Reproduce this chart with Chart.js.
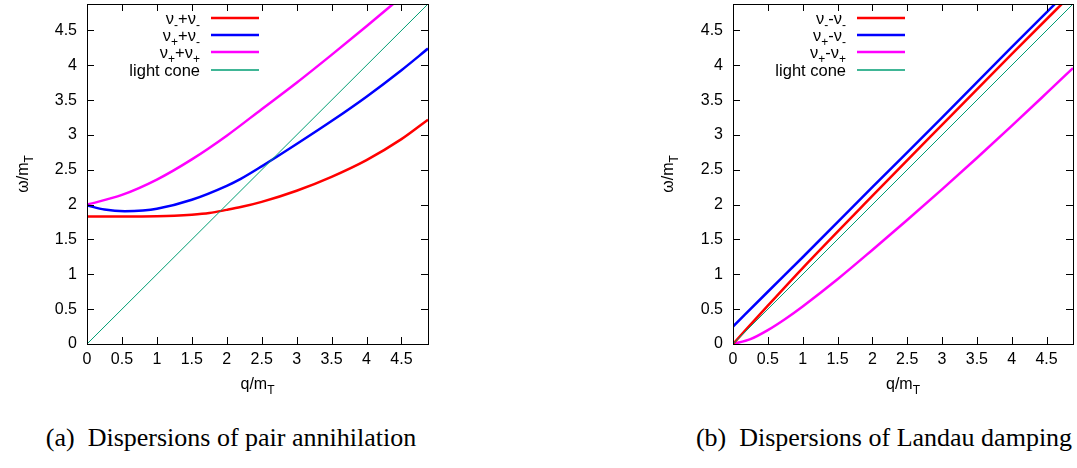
<!DOCTYPE html>
<html>
<head>
<meta charset="utf-8">
<script src="https://cdn.jsdelivr.net/npm/chart.js@4.4.1/dist/chart.umd.min.js"></script>
<style>
  html, body { margin: 0; padding: 0; background: #fff; }
  body { width: 1077px; height: 468px; position: relative; overflow: hidden; }
  .plot { position: absolute; top: 0; height: 400px; }
  .cap { position: absolute; top: 423px; font-family: "Liberation Serif", "Times New Roman", Times, "DejaVu Serif", serif; font-size: 26px; color: #000; white-space: nowrap; transform: translateX(-50%); }
</style>
</head>
<body>
<div class="plot" style="left:0;width:470px"><canvas id="pairChart"></canvas></div>
<div class="plot" style="left:610px;width:467px"><canvas id="landauChart"></canvas></div>
<div class="cap" style="left:231px">(a)&nbsp; Dispersions of pair annihilation</div>
<div class="cap" style="left:884px">(b)&nbsp; Dispersions of Landau damping</div>
<script>
// ─── Data ───────────────────────────────────────────────────────────────────
const axisMax = 4.88;
const tickVals = [0, 0.5, 1, 1.5, 2, 2.5, 3, 3.5, 4, 4.5];

const coneQ = [0, 4.88];
const coneW = [0, 4.88];

// (a) pair annihilation
const mmQ = [0, 0.5, 1.0, 1.25, 1.5, 1.75, 2.0, 2.2, 2.5, 3.0, 3.5, 4.0, 4.5, 4.88];
const mmW = [1.83, 1.83, 1.833, 1.84, 1.855, 1.88, 1.925, 1.965, 2.04, 2.2, 2.4, 2.64, 2.94, 3.22];
const pmQ = [0, 0.25, 0.54, 0.8, 1.0, 1.5, 2.0, 2.2, 2.5, 3.0, 3.5, 4.0, 4.5, 4.88];
const pmW = [1.99, 1.93, 1.905, 1.915, 1.94, 2.07, 2.27, 2.37, 2.55, 2.87, 3.2, 3.55, 3.93, 4.24];
const ppQ = [0, 0.5, 1.0, 1.5, 2.0, 2.5, 3.0, 3.5, 4.0, 4.5];
const ppW = [2.0, 2.14, 2.36, 2.65, 2.99, 3.37, 3.75, 4.15, 4.56, 4.98];

// (b) Landau damping
const ldMmQ = [0, 0.5, 1.0, 2.0, 3.0, 4.0, 4.88];
const ldMmW = [0, 0.55, 1.09, 2.125, 3.145, 4.16, 5.04];
const ldPmQ = [0, 0.5, 1.0, 2.0, 3.0, 4.0, 4.88];
const ldPmW = [0.25, 0.75, 1.245, 2.25, 3.25, 4.26, 5.14];
const ldPpQ = [0, 0.25, 0.5, 0.75, 1.0, 1.5, 2.0, 2.5, 3.0, 3.5, 4.0, 4.5, 4.88];
const ldPpW = [0, 0.07, 0.2, 0.36, 0.54, 0.93, 1.35, 1.78, 2.22, 2.67, 3.13, 3.6, 3.96];

// legend labels as [text, isSubscript] runs
const pairLabels = [
  [['ν', 0], ['-', 1], ['+ν', 0], ['-', 1]],
  [['ν', 0], ['+', 1], ['+ν', 0], ['-', 1]],
  [['ν', 0], ['+', 1], ['+ν', 0], ['+', 1]],
  [['light cone', 0]]
];
const landauLabels = [
  [['ν', 0], ['-', 1], ['-ν', 0], ['-', 1]],
  [['ν', 0], ['+', 1], ['-ν', 0], ['-', 1]],
  [['ν', 0], ['+', 1], ['-ν', 0], ['+', 1]],
  [['light cone', 0]]
];
const colors = ['#ff0000', '#0000ff', '#ff00ff', '#009e73'];

const FONT = '"Liberation Sans", Arial, Helvetica, sans-serif';

function pts(q, w) { return q.map((x, i) => ({ x, y: w[i] })); }

function runsWidth(ctx, runs, size) {
  const subSize = Math.round(size * 0.72);
  return runs.reduce((sum, [s, sub]) => { ctx.font = (sub ? subSize : size) + 'px ' + FONT; return sum + ctx.measureText(s).width; }, 0);
}

function drawRuns(ctx, runs, xRight, y, size) {
  const subSize = Math.round(size * 0.72);
  let x = xRight - runsWidth(ctx, runs, size);
  ctx.textAlign = 'left';
  ctx.textBaseline = 'alphabetic';
  runs.forEach(([s, sub]) => {
    ctx.font = (sub ? subSize : size) + 'px ' + FONT;
    ctx.fillText(s, x, y + (sub ? 5 : 0));
    x += ctx.measureText(s).width;
  });
}

// box, inward mirrored ticks, axis titles and the key
const gnuplotLook = {
  id: 'gnuplotLook',
  afterDraw(chart, args, opts) {
    const { ctx, chartArea: a, scales } = chart;
    ctx.save();
    ctx.strokeStyle = '#000';
    ctx.lineWidth = 1;
    ctx.strokeRect(Math.round(a.left) + 0.5, Math.round(a.top) + 0.5, Math.round(a.right - a.left), Math.round(a.bottom - a.top));
    const tl = 7;
    ctx.beginPath();
    tickVals.forEach(v => {
      if (v === 0) return;
      const px = Math.round(scales.x.getPixelForValue(v)) + 0.5;
      ctx.moveTo(px, a.bottom); ctx.lineTo(px, a.bottom - tl);
      ctx.moveTo(px, a.top); ctx.lineTo(px, a.top + tl);
      const py = Math.round(scales.y.getPixelForValue(v)) + 0.5;
      ctx.moveTo(a.left, py); ctx.lineTo(a.left + tl, py);
      ctx.moveTo(a.right, py); ctx.lineTo(a.right - tl, py);
    });
    ctx.stroke();

    ctx.fillStyle = '#000';
    // x title
    const xt = [['q/m', 0], ['T', 1]];
    drawRuns(ctx, xt, (a.left + a.right) / 2 + runsWidth(ctx, xt, 16) / 2, 389, 16);
    // y title
    ctx.save();
    ctx.translate(opts.yTitleX, (a.top + a.bottom) / 2);
    ctx.rotate(-Math.PI / 2);
    const yt = [['ω/m', 0], ['T', 1]];
    drawRuns(ctx, yt, runsWidth(ctx, yt, 16) / 2, 6, 16);
    ctx.restore();

    // key
    const rowsY = [18, 35, 52, 70];
    opts.labels.forEach((runs, i) => {
      ctx.fillStyle = '#000';
      drawRuns(ctx, runs, a.left + 113, rowsY[i] + 6, 16.5);
      ctx.strokeStyle = colors[i];
      ctx.lineWidth = i === 3 ? 1.5 : 2.5;
      ctx.beginPath();
      ctx.moveTo(a.left + 124, rowsY[i]);
      ctx.lineTo(a.left + 172, rowsY[i]);
      ctx.stroke();
    });
    ctx.restore();
  }
};

function makeChart(id, series, labels, yAxisWidth, rightPad, yTitleX) {
  const datasets = series.map((s, i) => ({
    data: s,
    borderColor: colors[i],
    borderWidth: i === 3 ? 1 : 2.5,
    pointRadius: 0,
    showLine: true,
    fill: false,
    cubicInterpolationMode: 'monotone',
    order: i === 3 ? 0 : i + 1
  }));
  const tickFont = { family: FONT, size: 16 };
  return new Chart(document.getElementById(id), {
    type: 'scatter',
    data: { datasets },
    options: {
      responsive: true,
      maintainAspectRatio: false,
      animation: false,
      layout: { padding: { top: 4, right: rightPad, left: 0, bottom: 0 } },
      plugins: { legend: { display: false }, tooltip: { enabled: false }, gnuplotLook: { labels, yTitleX } },
      scales: {
        x: {
          type: 'linear', min: 0, max: axisMax,
          afterBuildTicks: s => { s.ticks = tickVals.map(v => ({ value: v })); },
          afterFit: s => { s.height = 56; s.paddingLeft = 0; s.paddingRight = 0; },
          grid: { display: false, drawTicks: false },
          border: { display: false },
          ticks: { color: '#000', font: tickFont, padding: 6, maxRotation: 0, autoSkip: false, callback: v => String(v) }
        },
        y: {
          type: 'linear', min: 0, max: axisMax,
          afterBuildTicks: s => { s.ticks = tickVals.map(v => ({ value: v })); },
          afterFit: s => { s.width = yAxisWidth; s.paddingTop = 0; s.paddingBottom = 0; },
          grid: { display: false, drawTicks: false },
          border: { display: false },
          ticks: { color: '#000', font: tickFont, padding: 10, autoSkip: false, callback: v => String(v) }
        }
      }
    },
    plugins: [gnuplotLook]
  });
}

makeChart('pairChart', [pts(mmQ, mmW), pts(pmQ, pmW), pts(ppQ, ppW), pts(coneQ, coneW)], pairLabels, 87, 42, 22);
makeChart('landauChart', [pts(ldMmQ, ldMmW), pts(ldPmQ, ldPmW), pts(ldPpQ, ldPpW), pts(coneQ, coneW)], landauLabels, 123, 4, 57);
</script>
</body>
</html>
